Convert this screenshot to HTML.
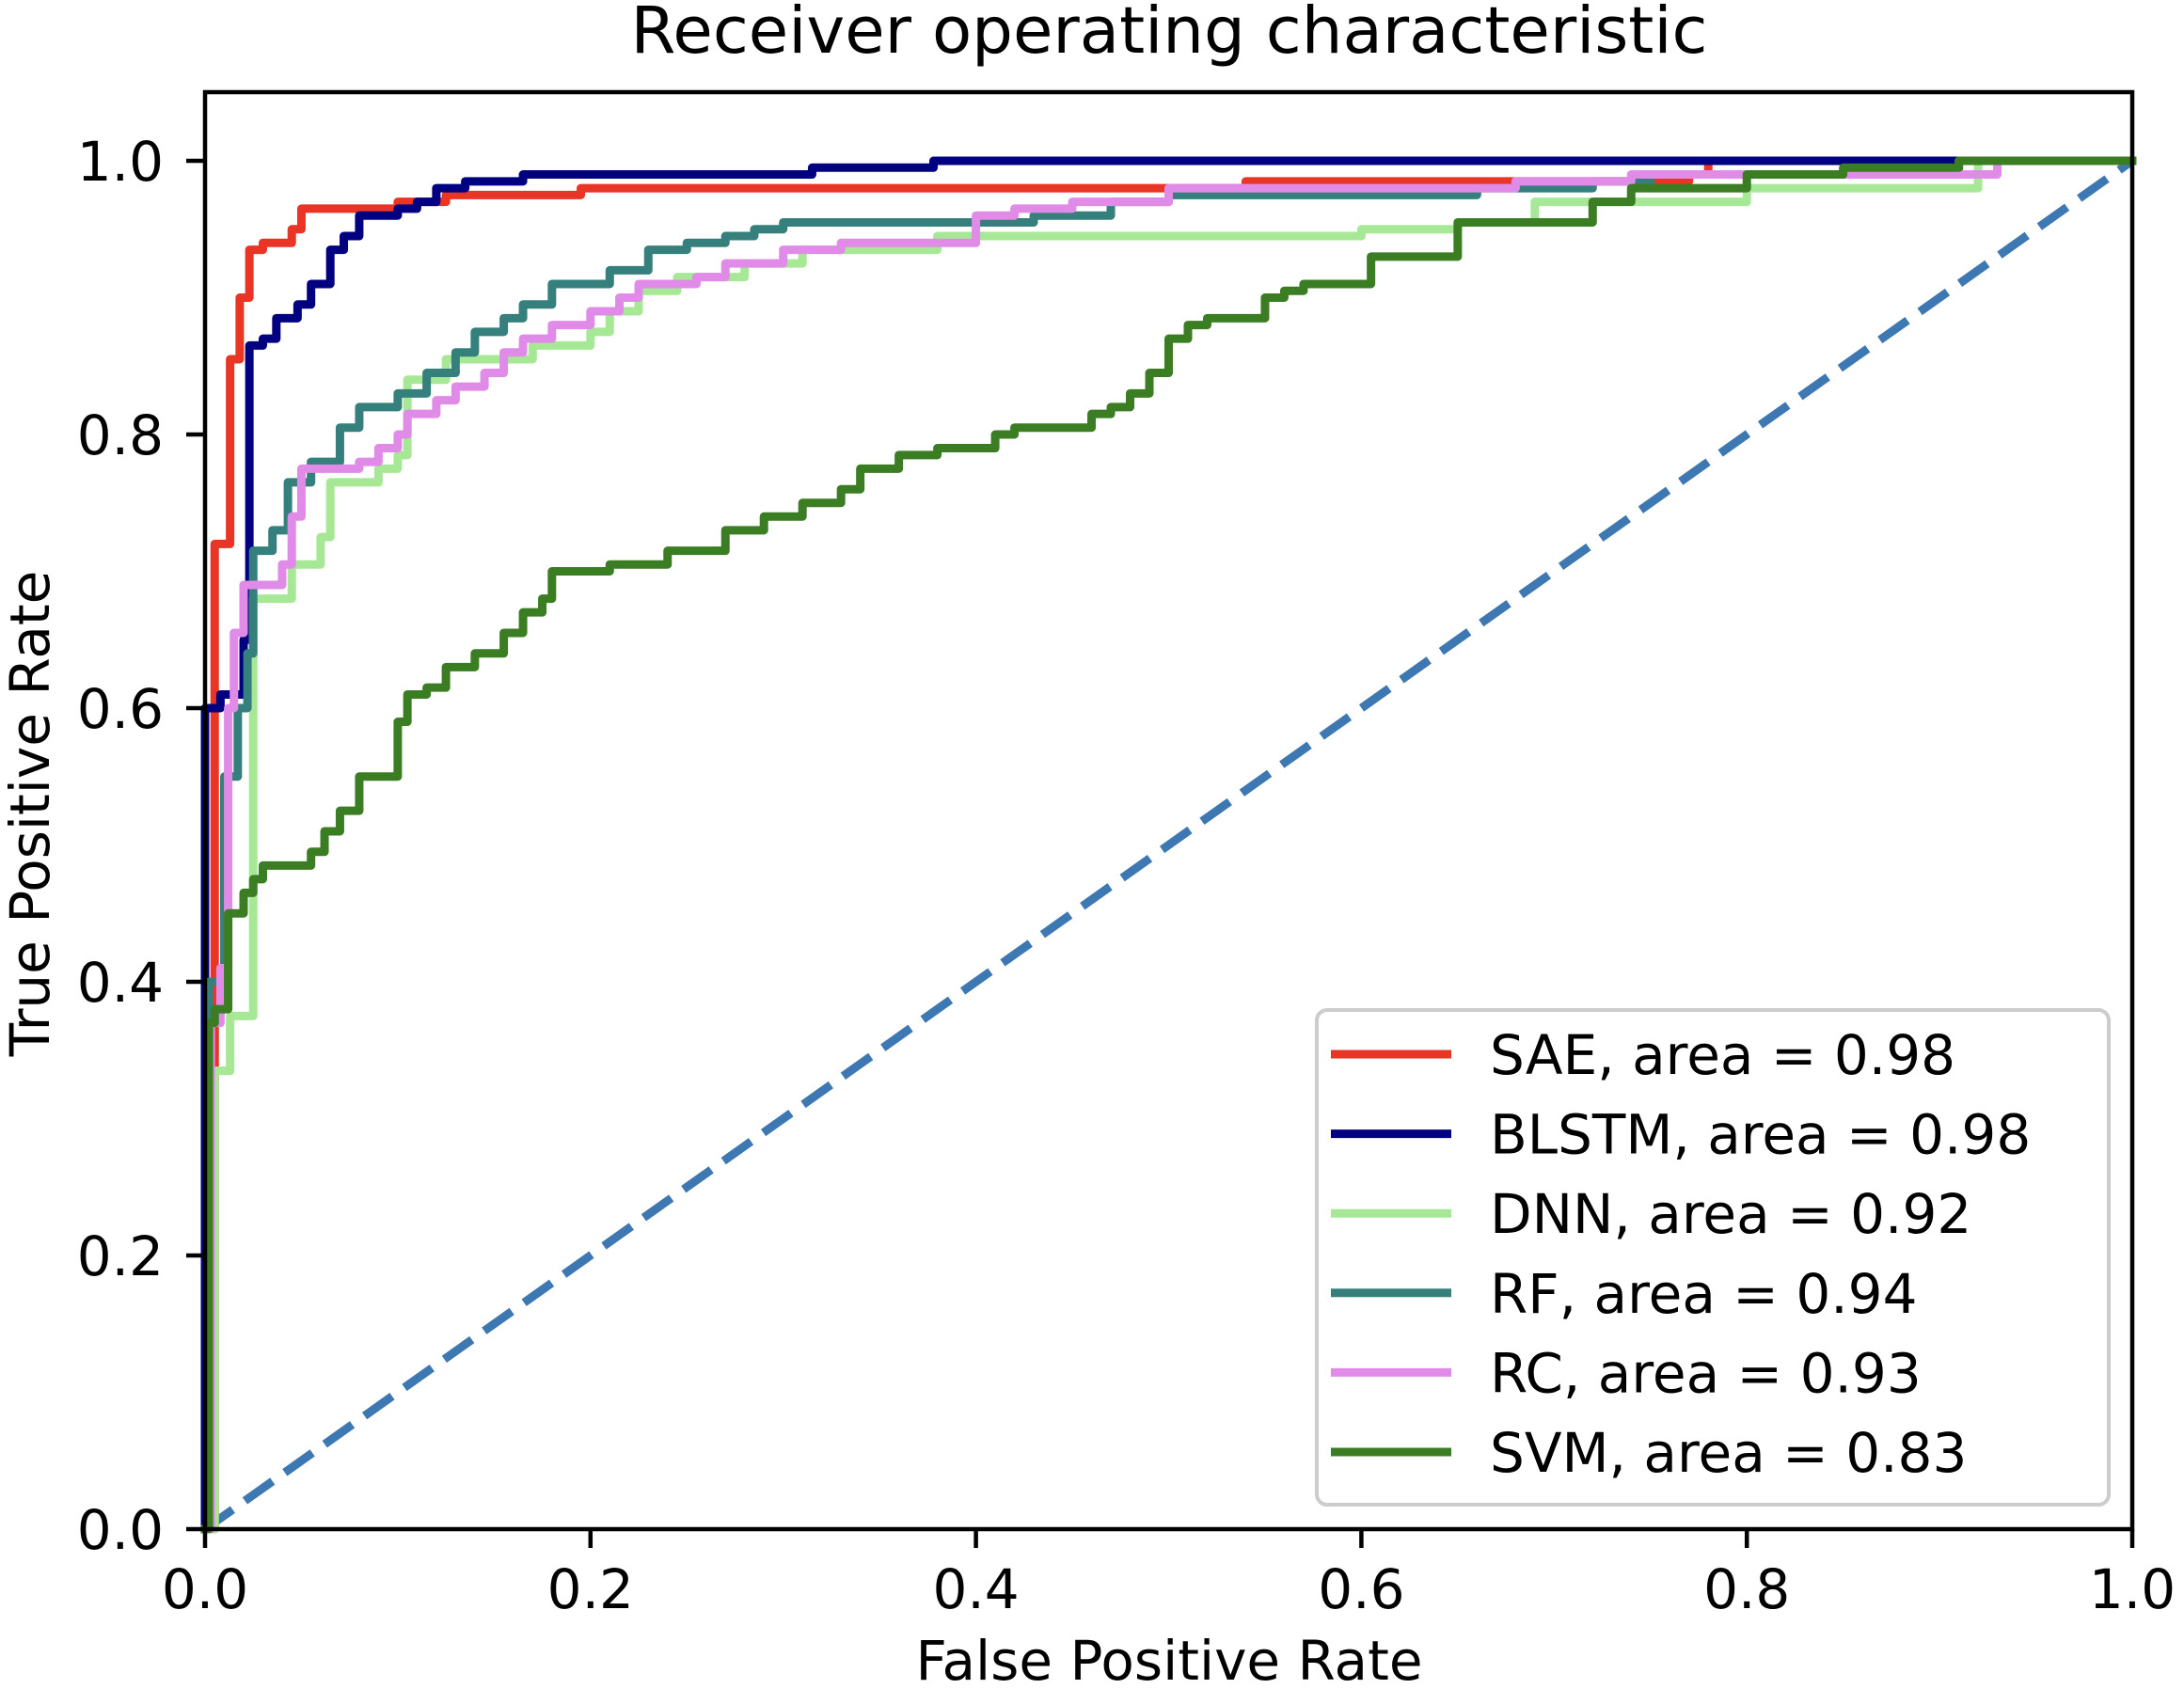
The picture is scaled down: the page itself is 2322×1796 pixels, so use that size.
<!DOCTYPE html>
<html><head><meta charset="utf-8">
<style>
html,body{margin:0;padding:0;background:#fff;}
svg{display:block;font-family:"DejaVu Sans","Liberation Sans",sans-serif;}
</style></head>
<body>
<svg id="chart" width="2322" height="1796" viewBox="0 0 2322 1796" xmlns="http://www.w3.org/2000/svg">
<rect width="2322" height="1796" fill="#fff"/>
<text x="1243" y="56" font-size="69" text-anchor="middle">Receiver operating characteristic</text>
<g id="plot"></g>
<g id="axes"></g>
<text x="1243" y="1786" font-size="58" text-anchor="middle">False Positive Rate</text>
<text transform="translate(52,865) rotate(-90)" font-size="58" text-anchor="middle">True Positive Rate</text>
<g id="legend"></g>
</svg>
<script>
const seriesNames = ["SAE","BLSTM","DNN","RF","RC","SVM"];
const seriesAuc = ["0.98","0.98","0.92","0.94","0.93","0.83"];
const seriesColors = ["#e83526","#000080","#a6e896","#35807c","#e08be8","#3a7d22"];
const xTicks = [0,0.2,0.4,0.6,0.8,1.0];
const yTicks = [0,0.2,0.4,0.6,0.8,1.0];
const xTickLabels = ["0.0","0.2","0.4","0.6","0.8","1.0"];
const yTickLabels = ["0.0","0.2","0.4","0.6","0.8","1.0"];
const saeFpr = [0,0.005,0.005,0.005,0.013,0.018,0.023,0.03,0.045,0.05,0.1,0.125,0.195,0.54,0.77,0.78];
const saeTpr = [0,0.21,0.55,0.72,0.855,0.90,0.935,0.94,0.95,0.965,0.97,0.975,0.98,0.985,0.99,1.0];
const blstmFpr = [0,0,0.008,0.02,0.023,0.03,0.037,0.048,0.055,0.065,0.072,0.08,0.1,0.11,0.12,0.135,0.165,0.315,0.378];
const blstmTpr = [0,0.6,0.61,0.65,0.865,0.87,0.885,0.895,0.91,0.935,0.945,0.96,0.965,0.97,0.98,0.985,0.99,0.995,1.0];
const dnnFpr = [0,0.005,0.013,0.025,0.025,0.045,0.06,0.065,0.09,0.1,0.105,0.125,0.17,0.2,0.21,0.225,0.245,0.28,0.31,0.38,0.6,0.65,0.69,0.8,0.92];
const dnnTpr = [0,0.335,0.375,0.6,0.68,0.705,0.725,0.765,0.775,0.785,0.84,0.855,0.865,0.875,0.89,0.905,0.915,0.925,0.935,0.945,0.95,0.955,0.97,0.98,1.0];
const rfFpr = [0,0.002,0.01,0.017,0.022,0.025,0.035,0.043,0.055,0.07,0.08,0.1,0.115,0.13,0.14,0.155,0.165,0.18,0.21,0.23,0.25,0.27,0.285,0.3,0.43,0.47,0.5,0.66,0.72,0.75,0.91];
const rfTpr = [0,0.4,0.55,0.6,0.64,0.715,0.73,0.765,0.78,0.805,0.82,0.83,0.845,0.86,0.875,0.885,0.895,0.91,0.92,0.935,0.94,0.945,0.95,0.955,0.96,0.97,0.975,0.98,0.985,0.99,1.0];
const rcFpr = [0,0.003,0.008,0.012,0.015,0.02,0.04,0.045,0.05,0.08,0.09,0.1,0.105,0.12,0.13,0.145,0.155,0.165,0.18,0.2,0.215,0.225,0.255,0.27,0.3,0.33,0.4,0.42,0.45,0.5,0.68,0.74,0.93];
const rcTpr = [0,0.37,0.41,0.6,0.655,0.69,0.705,0.74,0.775,0.78,0.79,0.8,0.815,0.825,0.835,0.845,0.86,0.87,0.88,0.89,0.9,0.91,0.915,0.925,0.935,0.94,0.96,0.965,0.97,0.98,0.985,0.99,1.0];
const svmFpr = [0,0.002,0.005,0.012,0.02,0.025,0.03,0.055,0.062,0.07,0.08,0.1,0.105,0.115,0.125,0.14,0.155,0.165,0.175,0.18,0.21,0.24,0.27,0.29,0.31,0.33,0.34,0.36,0.38,0.41,0.42,0.46,0.47,0.48,0.49,0.5,0.51,0.52,0.55,0.56,0.57,0.605,0.65,0.72,0.74,0.8,0.85,0.91];
const svmTpr = [0,0.37,0.38,0.45,0.465,0.475,0.485,0.495,0.51,0.525,0.55,0.59,0.61,0.615,0.63,0.64,0.655,0.67,0.68,0.7,0.705,0.715,0.73,0.74,0.75,0.76,0.775,0.785,0.79,0.8,0.805,0.815,0.82,0.83,0.845,0.87,0.88,0.885,0.9,0.905,0.91,0.93,0.955,0.97,0.98,0.99,0.995,1.0];
const allFpr = [saeFpr,blstmFpr,dnnFpr,rfFpr,rcFpr,svmFpr];
const allTpr = [saeTpr,blstmTpr,dnnTpr,rfTpr,rcTpr,svmTpr];

const NS = "http://www.w3.org/2000/svg";
const X0 = 218, X1 = 2267, Y0 = 1626, Y1 = 171;
function sx(v){ return X0 + v*(X1-X0); }
function sy(v){ return Y0 - v*(Y0-Y1); }
function mk(tag, attrs, parent){ const e=document.createElementNS(NS,tag); for(const k in attrs) e.setAttribute(k,attrs[k]); parent.appendChild(e); return e; }

const plot = document.getElementById('plot');
const axes = document.getElementById('axes');
const legend = document.getElementById('legend');

const diag = mk('line',{x1:sx(0),y1:sy(0),x2:sx(1),y2:sy(1),stroke:'#3e78b2','stroke-width':9,'stroke-dasharray':'36,16'},plot);



for(let s=0;s<seriesNames.length;s++){
  const fx=allFpr[s], ty=allTpr[s];
  let d='M'+sx(fx[0])+','+sy(ty[0]);
  for(let i=1;i<fx.length;i++){
    d+=' L'+sx(fx[i])+','+sy(ty[i-1])+' L'+sx(fx[i])+','+sy(ty[i]);
  }
  d+=' L'+sx(1)+','+sy(ty[ty.length-1]);
  const p=mk('path',{d:d,fill:'none',stroke:seriesColors[s],'stroke-width':9,'stroke-linejoin':'round','stroke-linecap':'square'},plot);
  
  
}

const frame = mk('rect',{x:X0,y:98,width:X1-X0,height:Y0-98,fill:'none',stroke:'#000','stroke-width':4.5},axes);



for(let i=0;i<xTicks.length;i++){
  const x=sx(xTicks[i]);
  const t=mk('line',{x1:x,y1:Y0,x2:x,y2:Y0+20,stroke:'#000','stroke-width':4.5},axes);
  
  
  const l=mk('text',{x:x,y:1710,'font-size':58,'text-anchor':'middle'},axes);
  l.textContent=xTickLabels[i];
  
  
}
for(let i=0;i<yTicks.length;i++){
  const y=sy(yTicks[i]);
  const t=mk('line',{x1:X0-20,y1:y,x2:X0,y2:y,stroke:'#000','stroke-width':4.5},axes);
  
  
  const l=mk('text',{x:174,y:y+21,'font-size':58,'text-anchor':'end'},axes);
  l.textContent=yTickLabels[i];
  
  
}

const box = mk('rect',{x:1400,y:1074,width:842,height:526,rx:11,fill:'#fff','fill-opacity':0.8,stroke:'#cccccc','stroke-width':4},legend);


for(let s=0;s<seriesNames.length;s++){
  const y=1121+s*84.6;
  const ln=mk('line',{x1:1415,y1:y,x2:1543,y2:y,stroke:seriesColors[s],'stroke-width':9},legend);
  
  
  const tx=mk('text',{x:1584,y:y+21,'font-size':58,'textLength':0},legend);
  tx.removeAttribute('textLength');
  tx.textContent=seriesNames[s]+', area = '+seriesAuc[s];
  
  
}
</script>
</body></html>
